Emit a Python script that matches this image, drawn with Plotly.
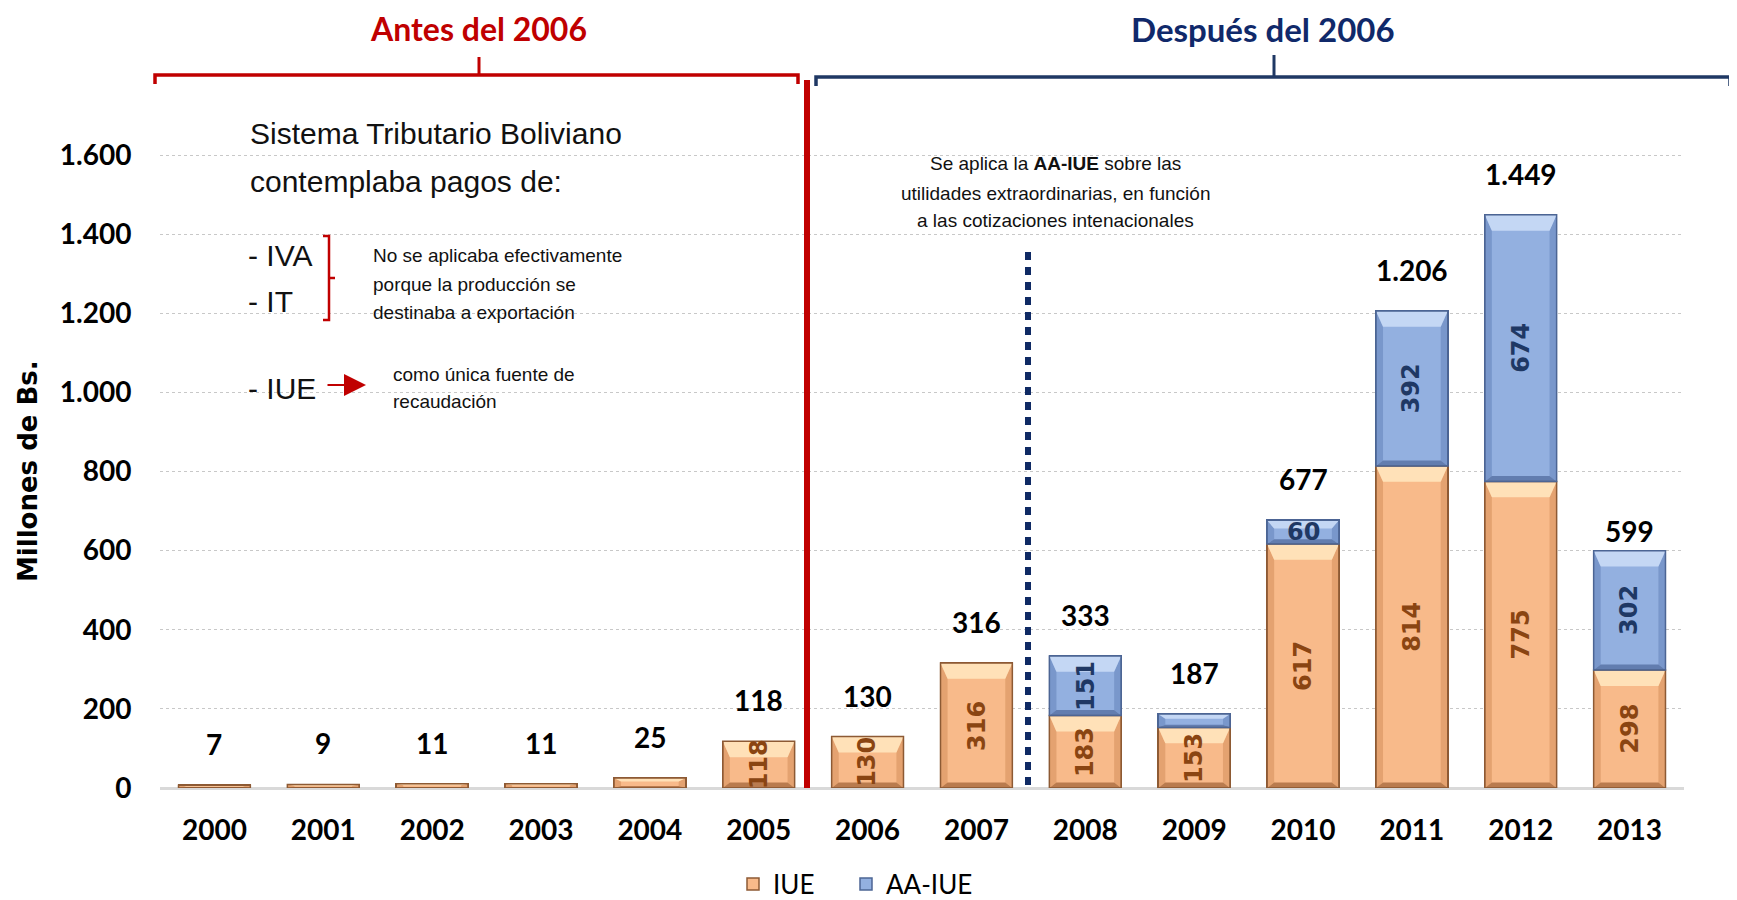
import plotly.graph_objects as go

years = ["2000", "2001", "2002", "2003", "2004", "2005", "2006",
         "2007", "2008", "2009", "2010", "2011", "2012", "2013"]
iue = [7, 9, 11, 11, 25, 118, 130, 316, 183, 153, 617, 814, 775, 298]
aa_iue = [0, 0, 0, 0, 0, 0, 0, 0, 151, 34, 60, 392, 674, 302]
totals = [7, 9, 11, 11, 25, 118, 130, 316, 333, 187, 677, 1206, 1449, 599]
y_ticks = [0, 200, 400, 600, 800, 1000, 1200, 1400, 1600]
Y_MAX = 1800

W, H = 1737, 900
OFF = 8                      # page body margin
SX0, SX1 = 160, 1684         # plot area in page pixels
SY0, SY1 = 76, 788
L, R = SX0 - OFF, W - (SX1 - OFF)
T, B = SY0 - OFF, H - (SY1 - OFF)
PW, PH = SX1 - SX0, SY1 - SY0


def px(x):
    return (x - SX0) / PW


def py(y):
    return (SY1 - y) / PH


def fmt(v):
    return f"{v:,}".replace(",", ".")


CAL = "Lato, 'Liberation Sans', Arial, sans-serif"
ARI = "'Liberation Sans', Arial, sans-serif"
VER = "'DejaVu Sans', Verdana, sans-serif"
RED = "#C00000"
NAVY = "#10296A"

STYLE = {
    "IUE": dict(face="#F8BA8A", top="#FFE6BC", side="#DE9C69", bot="#A96B3F", line="#8D5A34",
                label="#8A4512", legend="legend"),
    "AA-IUE": dict(face="#93B0E0", top="#CADBF6", side="#7391C5", bot="#5670A2", line="#4C6594",
                   label="#1F3864", legend="legend2"),
}

fig = go.Figure()
for name, vals in (("IUE", iue), ("AA-IUE", aa_iue)):
    st = STYLE[name]
    fig.add_trace(go.Bar(
        x=years, y=[v if v else None for v in vals], name=name, legend=st["legend"],
        marker=dict(color=st["face"], line=dict(color=st["line"], width=1.5)),
    ))

BW = 0.66
ann = []
shapes = []

# bevel decoration of every stacked segment, derived from the data
for i in range(len(years)):
    for name, base, val in (("IUE", 0, iue[i]), ("AA-IUE", iue[i], aa_iue[i])):
        if not val:
            continue
        st = STYLE[name]
        x0, x1 = i - BW / 2, i + BW / 2
        y0, y1 = base, base + val
        dx = 0.065
        dyt = min(40, val * 0.35)
        dyb = min(14, val * 0.2)

        def poly(pts, col, op=1.0):
            d = "M " + " L ".join(f"{a},{b}" for a, b in pts) + " Z"
            shapes.append(dict(type="path", xref="x", yref="y", path=d, fillcolor=col,
                               opacity=op, line=dict(width=0), layer="above"))

        poly([(x0, y1), (x0 + dx, y1 - dyt), (x0 + dx, y0 + dyb), (x0, y0)], st["side"], 0.8)
        poly([(x1, y1), (x1 - dx, y1 - dyt), (x1 - dx, y0 + dyb), (x1, y0)], st["side"], 0.8)
        poly([(x0, y0), (x1, y0), (x1 - dx, y0 + dyb), (x0 + dx, y0 + dyb)], st["bot"], 0.8)
        poly([(x0, y1), (x1, y1), (x1 - dx, y1 - dyt), (x0 + dx, y1 - dyt)], st["top"], 0.9)
        shapes.append(dict(type="rect", xref="x", yref="y", x0=x0, x1=x1, y0=y0, y1=y1,
                           line=dict(color=st["line"], width=1.5), layer="above"))
        if val >= 50:
            ann.append(dict(x=i, y=base + val / 2, xref="x", yref="y",
                            text=f"<b>{val}</b>", showarrow=False,
                            textangle=-90 if val >= 100 else 0,
                            font=dict(family=VER, size=24, color=st["label"])))

for i, yr in enumerate(years):
    ann.append(dict(x=i, y=totals[i], xref="x", yref="y", text=f"<b>{fmt(totals[i])}</b>",
                    showarrow=False, yshift=20 if yr == "2013" else 41,
                    font=dict(family=CAL, size=28, color="black")))

# y-axis title
ann.append(dict(x=px(28), y=py(471), xref="paper", yref="paper", text="<b>Millones de Bs.</b>",
                showarrow=False, textangle=-90, xanchor="center", yanchor="middle",
                font=dict(family=VER, size=26, color="black")))

# headings
ann.append(dict(x=px(478), y=py(29), xref="paper", yref="paper", text="<b>Antes del 2006</b>",
                showarrow=False, xanchor="center", yanchor="middle", borderpad=0,
                font=dict(family=CAL, size=32, color=RED)))
ann.append(dict(x=px(1263), y=py(29), xref="paper", yref="paper", text="<b>Después del 2006</b>",
                showarrow=False, xanchor="center", yanchor="middle", borderpad=0,
                font=dict(family=CAL, size=33, color=NAVY)))


def left_text(x, y, text, size):
    ann.append(dict(x=px(x), y=py(y), xref="paper", yref="paper", text=text,
                    showarrow=False, xanchor="left", yanchor="middle",
                    font=dict(family=ARI, size=size, color="#111111")))


left_text(248, 133, "Sistema Tributario Boliviano", 30)
left_text(248, 181, "contemplaba pagos de:", 30)
left_text(246, 256, "- IVA", 30)
left_text(246, 301, "- IT", 30)
left_text(246, 388, "- IUE", 30)
left_text(371, 256, "No se aplicaba efectivamente", 19)
left_text(371, 284, "porque la producción se", 19)
left_text(371, 312, "destinaba a exportación", 19)
left_text(391, 374, "como única fuente de", 19)
left_text(391, 401, "recaudación", 19)

for yy, t in ((163, "Se aplica la <b>AA-IUE</b> sobre las"),
              (193, "utilidades extraordinarias, en función"),
              (221, "a las cotizaciones intenacionales")):
    ann.append(dict(x=px(1055), y=py(yy), xref="paper", yref="paper", text=t,
                    showarrow=False, xanchor="center", yanchor="middle",
                    font=dict(family=ARI, size=19, color="#111111")))

# arrow
ann.append(dict(x=px(366), y=py(385), ax=-40, ay=0, xref="paper", yref="paper",
                text="", showarrow=True,
                arrowhead=2, arrowsize=2.2, arrowwidth=2, arrowcolor=RED))

# white boxes hiding gridlines behind the text blocks
shapes.append(dict(type="rect", xref="paper", yref="paper", x0=px(221), x1=px(705),
                   y0=py(430), y1=py(100), fillcolor="white", line=dict(width=0), layer="between"))
shapes.append(dict(type="rect", xref="paper", yref="paper", x0=px(853), x1=px(1239),
                   y0=py(250), y1=py(140), fillcolor="white", line=dict(width=0), layer="between"))


def path(pts, color, width):
    d = "M " + " L ".join(f"{px(a)},{py(b)}" for a, b in pts)
    shapes.append(dict(type="path", xref="paper", yref="paper", path=d,
                       line=dict(color=color, width=width)))


path([(155, 84), (155, 75), (798, 75), (798, 84)], RED, 3.5)
path([(479, 75), (479, 57)], RED, 3)
path([(816, 86), (816, 77), (1730, 77), (1730, 86)], "#1F3864", 3.5)
path([(1274, 77), (1274, 55)], "#1F3864", 3)
path([(323, 236), (329, 236), (329, 320), (323, 320)], RED, 2.5)
path([(329, 278), (335, 278)], RED, 2.5)

shapes.append(dict(type="line", xref="paper", yref="paper", x0=px(807), x1=px(807),
                   y0=py(80), y1=py(788), line=dict(color=RED, width=6)))
shapes.append(dict(type="line", xref="paper", yref="paper", x0=px(1028), x1=px(1028),
                   y0=py(252), y1=py(788), line=dict(color="#0F2A64", width=6, dash="8px,7px")))

leg_common = dict(orientation="h", yanchor="middle", xanchor="left",
                  font=dict(family=CAL, size=26, color="black"), bgcolor="rgba(0,0,0,0)")

fig.update_layout(
    width=W, height=H,
    margin=dict(l=L, r=R, t=T, b=B, autoexpand=False),
    barmode="stack", bargap=1 - BW,
    plot_bgcolor="white", paper_bgcolor="white",
    showlegend=True,
    legend=dict(x=px(733), y=py(884), **leg_common),
    legend2=dict(x=px(846), y=py(884), **leg_common),
    annotations=ann, shapes=shapes,
    xaxis=dict(type="category", showgrid=False, showline=False, zeroline=False,
               range=[-0.5, len(years) - 0.5],
               ticks="outside", ticklen=17, tickcolor="rgba(0,0,0,0)",
               tickfont=dict(family=CAL, size=28, color="black"),
               tickprefix="<b>", ticksuffix="</b>"),
    yaxis=dict(range=[0, Y_MAX], tickvals=y_ticks, ticktext=[f"<b>{fmt(v)}</b>" for v in y_ticks],
               showgrid=True, gridcolor="#C8C8C8", griddash="dot", gridwidth=1,
               zeroline=True, zerolinecolor="#D9D9D9", zerolinewidth=3,
               ticks="outside", ticklen=22, tickcolor="rgba(0,0,0,0)",
               tickfont=dict(family=CAL, size=28, color="black")),
)

fig.write_html("out.html")
